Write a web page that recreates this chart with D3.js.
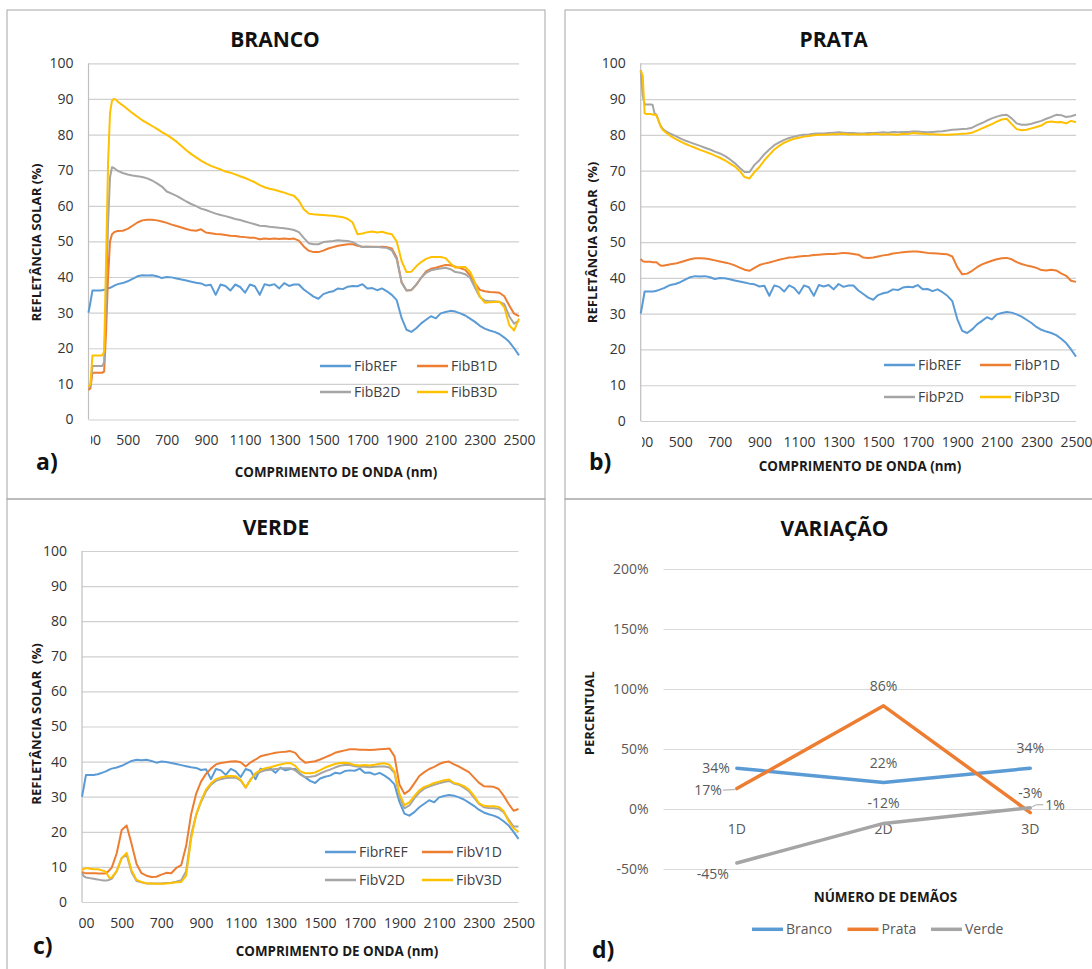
<!DOCTYPE html>
<html>
<head>
<meta charset="utf-8">
<script src="https://cdn.jsdelivr.net/npm/d3@7"></script>
<style>
  html, body { margin: 0; padding: 0; background: #fff; }
  svg { display: block; }
  text { font-family: "Open Sans", sans-serif; }
</style>
</head>
<body>
<svg id="chart" width="1092" height="969"></svg>
<script>
// wavelength categories (nm)
const wavelengths = [
  300, 310, 320, 330, 340, 350, 360, 370, 380, 390, 400, 410, 420, 430, 440, 450,
  475, 500, 525, 550, 575, 600, 625, 650, 675, 700,
  725, 750, 775, 800, 825, 850, 875, 900, 925, 950,
  975, 1000, 1025, 1050, 1075, 1100, 1125, 1150, 1175, 1200,
  1225, 1250, 1275, 1300, 1325, 1350, 1375, 1400, 1425, 1450,
  1475, 1500, 1525, 1550, 1575, 1600, 1625, 1650, 1675, 1700,
  1725, 1750, 1775, 1800, 1825, 1850, 1875, 1900, 1925, 1950,
  1975, 2000, 2025, 2050, 2075, 2100, 2125, 2150, 2175, 2200,
  2225, 2250, 2275, 2300, 2325, 2350, 2375, 2400, 2425, 2450,
  2475, 2500
];
const wlTicks = [300, 500, 700, 900, 1100, 1300, 1500, 1700, 1900, 2100, 2300, 2500];
const reflTicks = [0, 10, 20, 30, 40, 50, 60, 70, 80, 90, 100];

// reference fibre (same curve in a, b, c)
const fibREF = [
  30.0, 33.0, 36.2, 36.2, 36.2, 36.2, 36.2, 36.3, 36.4, 36.6, 36.8, 37.0, 37.2, 37.5, 37.8, 38.0,
  38.3, 38.8, 39.5, 40.2, 40.5, 40.4, 40.5, 40.2, 39.7, 40.0,
  39.9, 39.6, 39.3, 39.0, 38.7, 38.4, 38.2, 37.6, 37.8, 35.0,
  37.9, 37.5, 36.2, 37.9, 37.2, 35.6, 37.9, 37.4, 35.0, 38.0,
  37.6, 38.0, 36.8, 38.3, 37.5, 37.9, 37.9, 36.5, 35.5, 34.5,
  33.9, 35.2, 35.7, 36.0, 36.8, 36.6, 37.3, 37.5, 37.4, 38.0,
  36.8, 36.9, 36.3, 36.8, 36.0, 35.0, 33.5, 28.5, 25.2, 24.6,
  25.6, 27.0, 28.0, 29.0, 28.4, 29.8, 30.2, 30.5, 30.3, 29.8,
  29.2, 28.3, 27.4, 26.3, 25.5, 25.0, 24.6, 24.0, 23.0, 21.8,
  20.0, 18.0
];

// a) BRANCO
const fibB1D = [
  8.3, 8.8, 13.1, 13.1, 13.1, 13.1, 13.1, 13.1, 13.5, 25.0, 40.0, 50.0, 52.0, 52.5, 52.8, 52.9,
  53.0, 53.5, 54.4, 55.3, 55.9, 56.1, 56.1, 55.9, 55.6, 55.2,
  54.7, 54.3, 53.9, 53.5, 53.1, 53.0, 53.4, 52.5, 52.3, 52.1,
  52.0, 51.8, 51.6, 51.5, 51.3, 51.2, 51.0, 51.0, 50.6, 50.8,
  50.7, 50.8, 50.7, 50.8, 50.7, 50.8, 50.2, 48.6, 47.4, 47.0,
  47.0, 47.4, 48.0, 48.4, 48.8, 49.0, 49.2, 49.2, 48.8, 48.5,
  48.5, 48.5, 48.4, 48.5, 48.4, 48.0, 45.5, 38.5, 36.2, 36.3,
  37.8, 39.8, 41.6, 42.3, 42.6, 43.0, 43.4, 43.3, 42.9, 42.5,
  42.0, 40.5, 38.2, 36.4, 36.0, 35.8, 35.7, 35.6, 34.6, 32.0,
  29.7, 29.0
];
const fibB2D = [
  9.0, 9.5, 15.0, 15.0, 15.0, 15.0, 15.0, 15.0, 16.0, 35.0, 55.0, 68.0, 70.8, 70.6, 70.2, 69.8,
  69.2, 68.8, 68.5, 68.3, 68.1, 67.7, 67.1, 66.3, 65.4, 64.0,
  63.4, 62.8, 62.0, 61.2, 60.5, 59.9, 59.2, 58.8, 58.3, 57.8,
  57.4, 57.1, 56.7, 56.3, 56.0, 55.6, 55.2, 54.8, 54.4, 54.3,
  54.1, 54.0, 53.8, 53.7, 53.5, 53.2, 52.6, 51.0, 49.5, 49.2,
  49.2, 49.8, 50.0, 50.1, 50.3, 50.2, 50.1, 49.8, 49.0, 48.4,
  48.5, 48.4, 48.5, 48.3, 48.2, 47.5, 45.0, 38.5, 36.2, 36.4,
  37.9, 39.8, 41.2, 41.9, 42.2, 42.4, 42.6, 42.2, 41.4, 41.2,
  40.8, 39.8, 37.0, 34.4, 33.4, 33.2, 33.2, 33.0, 32.4, 29.0,
  26.9, 27.8
];
const fibB3D = [
  9.2, 9.8, 18.0, 18.0, 18.0, 18.0, 18.0, 18.0, 19.0, 45.0, 72.0, 86.0, 89.5, 90.0, 89.8, 89.2,
  88.2, 87.1, 86.0, 85.0, 84.0, 83.2, 82.4, 81.6, 80.7, 79.9,
  79.0, 78.0, 76.8, 75.6, 74.5, 73.6, 72.7, 71.9, 71.2, 70.7,
  70.2, 69.6, 69.3, 68.8, 68.3, 67.8, 67.2, 66.6, 65.8, 65.2,
  64.8, 64.5, 64.1, 63.7, 63.2, 62.8, 61.4, 59.0, 57.8, 57.6,
  57.5, 57.4, 57.3, 57.2, 57.0, 56.8, 56.3, 55.3, 52.0, 52.2,
  52.6, 52.8, 52.5, 52.7, 52.3, 52.0, 50.0, 44.5, 41.4, 41.5,
  43.0, 44.2, 45.1, 45.6, 45.6, 45.6, 45.3, 43.8, 42.6, 42.8,
  42.8, 41.5, 38.5, 34.5, 32.8, 32.9, 33.0, 33.1, 31.5, 26.5,
  25.0, 28.3
];

// b) PRATA
const fibP1D = [
  45.3, 44.7, 44.5, 44.5, 44.5, 44.5, 44.4, 44.4, 44.4, 43.9, 43.5, 43.4, 43.5, 43.6, 43.7, 43.8,
  44.0, 44.4, 44.8, 45.2, 45.5, 45.5, 45.4, 45.2, 44.9, 44.6,
  44.3, 44.0, 43.5, 42.9, 42.3, 42.0, 42.8, 43.6, 44.0, 44.3,
  44.7, 45.1, 45.4, 45.7, 45.8, 46.0, 46.1, 46.2, 46.4, 46.5,
  46.6, 46.7, 46.7, 46.8, 47.0, 46.9, 46.7, 46.5, 45.7, 45.6,
  45.7, 46.0, 46.3, 46.5, 46.8, 47.0, 47.2, 47.3, 47.4, 47.4,
  47.2, 47.0, 46.9, 46.8, 46.7, 46.6, 46.0, 43.0, 41.0, 41.2,
  42.0, 43.0, 43.8, 44.3, 44.8, 45.2, 45.5, 45.6, 45.2, 44.4,
  43.9, 43.5, 43.2, 42.8, 42.2, 42.1, 42.3, 42.1, 41.3, 40.6,
  39.2, 38.9
];
const fibP2D = [
  98.1, 91.0, 88.5, 88.5, 88.5, 88.5, 88.4, 86.0, 85.6, 84.0, 82.6, 81.8, 81.3, 80.9, 80.6, 80.3,
  79.7, 79.0, 78.4, 77.9, 77.4, 76.9, 76.4, 75.9, 75.3, 74.8,
  74.1, 73.2, 72.1, 70.8, 69.6, 69.6, 71.6, 72.9, 74.6, 75.9,
  77.1, 77.9, 78.6, 79.1, 79.5, 79.8, 80.0, 80.1, 80.3, 80.4,
  80.4, 80.5, 80.6, 80.7, 80.6, 80.5, 80.5, 80.4, 80.4, 80.5,
  80.5, 80.6, 80.7, 80.6, 80.8, 80.7, 80.8, 80.8, 80.9, 80.9,
  80.8, 80.7, 80.8, 80.9, 81.0, 81.2, 81.4, 81.5, 81.6, 81.7,
  82.0, 82.7, 83.3, 84.0, 84.6, 85.1, 85.5, 85.6, 84.6, 83.2,
  82.8, 82.8, 83.1, 83.5, 83.9, 84.5, 85.0, 85.6, 85.5, 85.0,
  85.2, 85.6
];
const fibP3D = [
  98.0, 96.5, 86.0, 85.8, 85.8, 85.8, 85.7, 85.6, 85.4, 84.0, 82.5, 81.5, 81.0, 80.5, 80.2, 79.7,
  78.9, 78.2, 77.5, 76.9, 76.4, 75.8, 75.3, 74.8, 74.2, 73.6,
  72.9, 72.0, 71.2, 69.9, 68.2, 67.8, 69.6, 71.0, 72.9, 74.4,
  75.9, 76.9, 77.8, 78.4, 78.9, 79.2, 79.5, 79.7, 79.9, 80.0,
  80.0, 80.1, 80.2, 80.2, 80.3, 80.1, 80.2, 80.1, 80.2, 80.1,
  80.3, 80.2, 80.1, 80.2, 80.1, 80.0, 80.3, 80.2, 80.5, 80.4,
  80.3, 80.2, 80.2, 80.1, 80.0, 80.0, 80.1, 80.2, 80.3, 80.4,
  80.6, 81.2, 81.8, 82.4, 83.0, 83.7, 84.3, 84.5, 83.0, 81.6,
  81.3, 81.4, 81.8, 82.2, 82.6, 83.5, 83.7, 83.5, 83.6, 83.2,
  83.9, 83.5
];

// c) VERDE
const fibV1D = [
  8.6, 8.3, 8.2, 8.2, 8.2, 8.2, 8.2, 8.2, 8.1, 8.1, 8.1, 8.1, 8.2, 8.6, 9.2, 9.8,
  13.9, 20.5, 21.8, 16.5, 10.8, 8.2, 7.5, 7.1, 7.2, 7.8,
  8.3, 8.2, 9.7, 10.5, 16.0, 25.0, 30.8, 34.3, 36.5, 38.0,
  39.2, 39.6, 39.8, 40.0, 40.1, 39.8, 38.6, 39.8, 40.6, 41.5,
  41.9, 42.2, 42.5, 42.7, 42.8, 43.0, 42.5, 40.8, 39.7, 39.9,
  40.1, 40.6, 41.2, 41.8, 42.5, 42.9, 43.2, 43.5, 43.5, 43.4,
  43.4, 43.3, 43.4, 43.5, 43.6, 43.7, 41.5, 33.5, 30.8, 31.8,
  33.8, 35.9, 37.0, 37.9, 38.5, 39.3, 39.8, 40.0, 39.2, 38.6,
  37.8, 37.0, 35.5, 34.0, 33.0, 32.9, 32.8, 32.2, 30.3, 28.0,
  26.0, 26.5
];
const fibV2D = [
  8.2, 7.3, 7.0, 6.9, 6.8, 6.7, 6.6, 6.5, 6.4, 6.3, 6.2, 6.1, 6.1, 6.2, 6.4, 6.6,
  8.8, 12.5, 13.5, 8.5, 6.0, 5.6, 5.3, 5.3, 5.3, 5.3,
  5.4, 5.5, 5.8, 6.2, 8.8, 19.0, 24.8, 28.5, 31.5, 33.4,
  34.5, 35.0, 35.3, 35.4, 35.4, 34.6, 32.6, 35.0, 36.4, 37.1,
  37.5, 37.7, 37.9, 38.0, 38.1, 38.1, 37.5, 36.3, 35.6, 35.7,
  35.9, 36.6, 37.2, 37.7, 38.3, 38.8, 39.0, 39.0, 38.7, 38.5,
  38.5, 38.4, 38.5, 38.6, 38.6, 38.3, 36.8, 30.0, 26.7, 27.5,
  29.5, 31.2, 32.3, 32.9, 33.4, 33.8, 34.2, 34.5, 33.7, 33.4,
  32.6, 31.6, 29.8, 28.0, 27.0, 26.8, 26.7, 26.6, 25.6, 23.5,
  21.5, 21.5
];
const fibV3D = [
  9.1, 9.5, 9.6, 9.6, 9.5, 9.4, 9.3, 9.3, 9.3, 9.2, 9.0, 8.9, 8.6, 7.6, 6.8, 7.0,
  8.8, 12.5, 14.0, 9.0, 6.3, 5.7, 5.3, 5.3, 5.2, 5.2,
  5.3, 5.4, 5.6, 5.7, 7.5, 18.0, 24.8, 28.8, 32.0, 33.8,
  35.0, 35.5, 35.8, 35.9, 35.8, 34.8, 32.6, 34.8, 36.7, 37.6,
  38.1, 38.4, 38.8, 39.2, 39.5, 39.6, 38.8, 37.2, 36.7, 36.7,
  36.9, 37.6, 38.3, 38.8, 39.3, 39.6, 39.7, 39.5, 39.0, 38.9,
  39.0, 38.9, 39.1, 39.4, 39.5, 39.1, 37.2, 30.8, 27.6, 28.4,
  30.2, 31.8, 32.8, 33.3, 33.9, 34.3, 34.7, 34.9, 33.9, 33.6,
  33.0, 32.0, 30.3, 28.2, 27.4, 27.3, 27.3, 27.1, 25.9, 23.0,
  21.0, 20.0
];

// d) VARIAÇÃO
const demaos = ["1D", "2D", "3D"];
const varBranco = [0.34, 0.22, 0.34];
const varPrata = [0.17, 0.86, -0.03];
const varVerde = [-0.45, -0.12, 0.01];
const varTicks = [-0.5, 0, 0.5, 1, 1.5, 2];

const FONT = "'Open Sans', sans-serif";
const colors = ["#5B9BD5", "#ED7D31", "#A5A5A5", "#FFC000"];
const svg = d3.select("#chart");

// plain hyphen for negatives, like the original
const pct = d3.formatLocale({
  decimal: ".", thousands: ",", grouping: [3], currency: ["", ""], minus: "-"
}).format(".0%");

function spectralPanel(p) {
  const g = svg.append("g");
  const x = d3.scaleLinear().domain([300, 2500]).range([p.left, p.right]);
  const y = d3.scaleLinear().domain([0, 100]).range([p.bottom, p.top]);

  g.append("rect")
    .attr("x", p.frame[0]).attr("y", p.frame[1])
    .attr("width", p.frame[2]).attr("height", p.frame[3])
    .attr("fill", "none").attr("stroke", "#A6A6A6");

  // horizontal gridlines + y labels
  const yAxis = g.append("g")
    .attr("transform", `translate(${p.left},0)`)
    .call(d3.axisLeft(y).tickValues(reflTicks).tickSize(-(p.right - p.left)).tickPadding(15));
  yAxis.select(".domain").remove();
  yAxis.selectAll(".tick line").attr("stroke", "#D0D0D0").attr("stroke-width", 1.2);
  yAxis.selectAll(".tick text")
    .attr("font-family", FONT).attr("font-size", 14).attr("fill", "#333");

  g.append("line")
    .attr("x1", p.left).attr("x2", p.left)
    .attr("y1", p.top).attr("y2", p.bottom)
    .attr("stroke", "#BFBFBF").attr("stroke-width", 1.2);

  // x labels (first one is cut by the plot edge, as in the original)
  svg.append("clipPath").attr("id", p.id + "-clip")
    .append("rect").attr("x", p.clipLeft).attr("y", 0).attr("width", 1092).attr("height", 969);
  const xAxis = g.append("g").attr("clip-path", `url(#${p.id}-clip)`)
    .append("g")
    .attr("transform", `translate(0,${p.bottom})`)
    .call(d3.axisBottom(x).tickValues(wlTicks).tickSize(0).tickFormat(d3.format("d")));
  xAxis.select(".domain").remove();
  xAxis.selectAll(".tick text")
    .attr("y", 21).attr("dy", "0.35em")
    .attr("font-family", FONT).attr("font-size", 14).attr("fill", "#333");

  // series
  const line = d3.line()
    .x((d, i) => x(wavelengths[i]))
    .y(d => y(d));
  p.series.forEach((s, i) => {
    g.append("path")
      .attr("d", line(s.values))
      .attr("fill", "none")
      .attr("stroke", colors[i])
      .attr("stroke-width", 2)
      .attr("stroke-linejoin", "round");
  });

  // legend 2x2
  p.series.forEach((s, i) => {
    const lx = p.legendCols[i % 2];
    const ly = p.legendRows[Math.floor(i / 2)];
    g.append("line")
      .attr("x1", lx).attr("x2", lx + 31)
      .attr("y1", ly).attr("y2", ly)
      .attr("stroke", colors[i]).attr("stroke-width", 2.5);
    g.append("text")
      .attr("x", lx + 34).attr("y", ly).attr("dy", "0.35em")
      .attr("font-size", 14).attr("fill", "#404040")
      .text(s.name);
  });

  // titles
  g.append("text")
    .attr("x", p.title[0]).attr("y", p.title[1])
    .attr("text-anchor", "middle").attr("font-size", 21).attr("font-weight", "bold")
    .attr("fill", "#111").text(p.name);
  g.append("text")
    .attr("x", p.xTitle[0]).attr("y", p.xTitle[1])
    .attr("text-anchor", "middle").attr("font-size", 13.4).attr("font-weight", "bold")
    .attr("fill", "#1a1a1a").text("COMPRIMENTO DE ONDA (nm)");
  g.append("text")
    .attr("transform", `translate(${p.yTitle[0]},${p.yTitle[1]}) rotate(-90)`)
    .attr("text-anchor", "middle").attr("dy", "0.35em")
    .attr("font-size", 13.2).attr("font-weight", "bold")
    .attr("fill", "#1a1a1a").style("white-space", "pre")
    .text(p.yTitleText);
  g.append("text")
    .attr("x", p.tag[0]).attr("y", p.tag[1])
    .attr("font-size", 23).attr("font-weight", "bold")
    .attr("fill", "#111").text(p.tagText);
}

spectralPanel({
  id: "a", name: "BRANCO", tagText: "a)",
  frame: [7, 10, 538, 489],
  left: 88.5, right: 519, top: 63.3, bottom: 419.5, clipLeft: 91,
  title: [275, 47], xTitle: [336, 477], yTitle: [36.3, 242.5], tag: [36, 470],
  yTitleText: "REFLETÂNCIA SOLAR (%)",
  legendCols: [320, 417], legendRows: [366, 392],
  series: [
    { name: "FibREF", values: fibREF },
    { name: "FibB1D", values: fibB1D },
    { name: "FibB2D", values: fibB2D },
    { name: "FibB3D", values: fibB3D }
  ]
});

spectralPanel({
  id: "b", name: "PRATA", tagText: "b)",
  frame: [565, 10, 540, 489],
  left: 640.7, right: 1076, top: 63.3, bottom: 421, clipLeft: 642,
  title: [833.6, 46.5], xTitle: [860, 471], yTitle: [592.5, 242.5], tag: [589, 469.5],
  yTitleText: "REFLETÂNCIA SOLAR  (%)",
  legendCols: [884, 980], legendRows: [365, 397],
  series: [
    { name: "FibREF", values: fibREF },
    { name: "FibP1D", values: fibP1D },
    { name: "FibP2D", values: fibP2D },
    { name: "FibP3D", values: fibP3D }
  ]
});

spectralPanel({
  id: "c", name: "VERDE", tagText: "c)",
  frame: [7, 499, 538, 480],
  left: 82, right: 518.5, top: 551, bottom: 902, clipLeft: 79,
  title: [276, 535], xTitle: [337, 956], yTitle: [36.5, 724], tag: [33, 954],
  yTitleText: "REFLETÂNCIA SOLAR  (%)",
  legendCols: [325, 422], legendRows: [852, 880],
  series: [
    { name: "FibrREF", values: fibREF },
    { name: "FibV1D", values: fibV1D },
    { name: "FibV2D", values: fibV2D },
    { name: "FibV3D", values: fibV3D }
  ]
});

// ---- d) VARIAÇÃO ----
(function () {
  const g = svg.append("g");
  const gx0 = 663.5;
  const xd = d3.scalePoint().domain(demaos).range([gx0, gx0 + 3 * 146.7]).padding(0.5);
  const yd = d3.scaleLinear().domain([-0.5, 2]).range([869, 569]);

  g.append("rect")
    .attr("x", 565).attr("y", 499).attr("width", 540).attr("height", 480)
    .attr("fill", "none").attr("stroke", "#A6A6A6");

  const yAxis = g.append("g")
    .attr("transform", `translate(${gx0},0)`)
    .call(d3.axisLeft(yd).tickValues(varTicks).tickSize(-(1100 - gx0)).tickPadding(15)
      .tickFormat(pct));
  yAxis.select(".domain").remove();
  yAxis.selectAll(".tick line").attr("stroke", "#D9D9D9").attr("stroke-width", 1.2);
  yAxis.selectAll(".tick text")
    .attr("font-family", FONT).attr("font-size", 14).attr("fill", "#595959");

  // category labels sit below the zero line
  g.selectAll(".cat").data(demaos).enter().append("text")
    .attr("x", d => xd(d)).attr("y", yd(0) + 20).attr("dy", "0.35em")
    .attr("text-anchor", "middle").attr("font-size", 14).attr("fill", "#595959")
    .text(d => d);

  const varSeries = [
    { name: "Branco", values: varBranco, color: colors[0] },
    { name: "Prata", values: varPrata, color: colors[1] },
    { name: "Verde", values: varVerde, color: colors[2] }
  ];
  // label placement per point: [dx, dy, anchor]
  const labelPos = [
    [[-7, 0, "end"], [0, -20, "middle"], [0, -20, "middle"]],
    [[-15, 1.5, "end"], [0, -20, "middle"], [0, -20, "middle"]],
    [[-24, 11, "middle"], [0, -20, "middle"], [15, -3, "start"]]
  ];
  const line = d3.line().x((d, i) => xd(demaos[i])).y(d => yd(d));
  varSeries.forEach(s => {
    g.append("path").attr("d", line(s.values))
      .attr("fill", "none").attr("stroke", s.color)
      .attr("stroke-width", 3.5).attr("stroke-linejoin", "round").attr("stroke-linecap", "round");
  });

  // leader lines for the displaced labels
  const px1 = xd(demaos[0]), py1 = yd(varPrata[0]);
  g.append("line").attr("x1", px1 - 14).attr("x2", px1 - 2).attr("y1", py1 + 1.5).attr("y2", py1 + 1)
    .attr("stroke", "#A6A6A6").attr("stroke-width", 1);
  const px3 = xd(demaos[2]), py3 = yd(varVerde[2]);
  g.append("path")
    .attr("d", `M${px3 + 2},${py3 - 1} L${px3 + 6},${py3 - 3} L${px3 + 13},${py3 - 3}`)
    .attr("fill", "none").attr("stroke", "#A6A6A6").attr("stroke-width", 1);

  varSeries.forEach((s, si) => {
    s.values.forEach((v, i) => {
      const [dx, dy, anchor] = labelPos[si][i];
      g.append("text")
        .attr("x", xd(demaos[i]) + dx).attr("y", yd(v) + dy).attr("dy", "0.35em")
        .attr("text-anchor", anchor).attr("font-size", 14).attr("fill", "#595959")
        .text(pct(v));
    });
  });

  // legend
  const legX = [752, 847.5, 931];
  varSeries.forEach((s, i) => {
    g.append("line")
      .attr("x1", legX[i]).attr("x2", legX[i] + 31)
      .attr("y1", 929.3).attr("y2", 929.3)
      .attr("stroke", s.color).attr("stroke-width", 3.5);
    g.append("text")
      .attr("x", legX[i] + 34).attr("y", 929.3).attr("dy", "0.35em")
      .attr("font-size", 14).attr("fill", "#595959").text(s.name);
  });

  g.append("text")
    .attr("x", 834.5).attr("y", 536)
    .attr("text-anchor", "middle").attr("font-size", 21).attr("font-weight", "bold")
    .attr("fill", "#111").text("VARIAÇÃO");
  g.append("text")
    .attr("x", 885.4).attr("y", 902)
    .attr("text-anchor", "middle").attr("font-size", 13.5).attr("font-weight", "bold")
    .attr("fill", "#1a1a1a").text("NÚMERO DE DEMÃOS");
  g.append("text")
    .attr("transform", "translate(589.7,713.3) rotate(-90)")
    .attr("text-anchor", "middle").attr("dy", "0.35em")
    .attr("font-size", 13).attr("font-weight", "bold")
    .attr("fill", "#1a1a1a").text("PERCENTUAL");
  g.append("text")
    .attr("x", 592).attr("y", 958)
    .attr("font-size", 23).attr("font-weight", "bold")
    .attr("fill", "#111").text("d)");
})();
</script>
</body>
</html>
